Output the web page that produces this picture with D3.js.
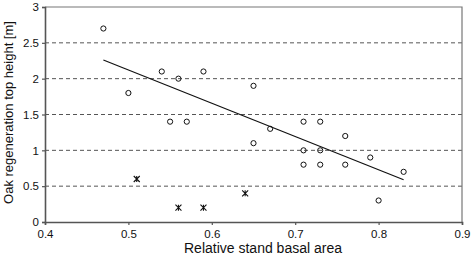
<!DOCTYPE html>
<html>
<head>
<meta charset="utf-8">
<script src="https://cdn.jsdelivr.net/npm/d3@7"></script>
<style>
  body { margin: 0; background: #fff; }
  text { font-family: "Liberation Sans", Arial, sans-serif; font-size: 11px; fill: #111; }
</style>
</head>
<body>
<script>
// stands with oak regeneration (circles)
const basalX = [0.47, 0.50, 0.54, 0.55, 0.56, 0.57, 0.59, 0.65, 0.65, 0.67, 0.71, 0.71, 0.71, 0.73, 0.73, 0.73, 0.76, 0.76, 0.79, 0.80, 0.83]
const heightY = [2.7, 1.8, 2.1, 1.4, 2.0, 1.4, 2.1, 1.9, 1.1, 1.3, 1.4, 1.0, 0.8, 1.4, 1.0, 0.8, 1.2, 0.8, 0.9, 0.3, 0.7]
// excluded stands (crosses)
const crossX = [0.51, 0.56, 0.59, 0.64]
const crossY = [0.6, 0.2, 0.2, 0.4]
// trend line end points
const trendX = [0.47, 0.83]
const trendY = [2.26, 0.59]

const xTicks = [0.4, 0.5, 0.6, 0.7, 0.8, 0.9]
const yTicks = [0, 0.5, 1, 1.5, 2, 2.5, 3]

const width = 473
const height = 260
const margin = {left: 45, top: 7, right: 11, bottom: 38}

var svg = d3.select("body").append("svg")
    .attr("width", width)
    .attr("height", height)

var x = d3.scaleLinear().domain([0.4, 0.9]).range([margin.left, width - margin.right])
var y = d3.scaleLinear().domain([0, 3]).range([height - margin.bottom, margin.top])

//Gitterlinien
svg.append("g")
    .selectAll("line")
    .data(yTicks.filter(d => d > 0 && d < 3))
    .enter()
    .append("line")
        .attr("x1", x(0.4)).attr("x2", x(0.9))
        .attr("y1", d => y(d)).attr("y2", d => y(d))
        .attr("stroke", "#555")
        .attr("stroke-width", 1)
        .attr("stroke-dasharray", "4,3")

//Rahmen oben und rechts
svg.append("path")
    .attr("d", `M${x(0.4)},${y(3)}H${x(0.9)}V${y(0)}`)
    .attr("fill", "none")
    .attr("stroke", "#777")
    .attr("stroke-width", 1.2)

//Achsen
var xAxis = svg.append("g")
    .attr("transform", `translate(0,${y(0)})`)
    .call(d3.axisBottom(x).tickValues(xTicks).tickSize(3).tickPadding(5).tickFormat(d3.format(".1f")))
var yAxis = svg.append("g")
    .attr("transform", `translate(${x(0.4)},0)`)
    .call(d3.axisLeft(y).tickValues(yTicks).tickSize(3).tickPadding(3).tickFormat(d => d))

svg.selectAll(".domain").attr("stroke", "#555").attr("stroke-width", 1.6)
svg.selectAll(".tick line").attr("stroke", "#555").attr("stroke-width", 1.2)
svg.selectAll(".tick text").style("font-size", "11.5px").attr("fill", "#111")

//Trendlinie
var line = d3.line().x(d => x(d[0])).y(d => y(d[1]))
svg.append("path")
    .attr("d", line(d3.zip(trendX, trendY)))
    .attr("fill", "none")
    .attr("stroke", "#111")
    .attr("stroke-width", 1.2)

//Kreise
svg.append("g")
    .selectAll("circle")
    .data(d3.zip(basalX, heightY))
    .enter()
    .append("circle")
        .attr("cx", d => x(d[0]))
        .attr("cy", d => y(d[1]))
        .attr("r", 2.6)
        .attr("fill", "none")
        .attr("stroke", "#111")
        .attr("stroke-width", 1)

//Kreuze
var s = 3
svg.append("g")
    .selectAll("path")
    .data(d3.zip(crossX, crossY))
    .enter()
    .append("path")
        .attr("d", d => {
            var cx = x(d[0]), cy = y(d[1])
            return `M${cx - s},${cy - s}L${cx + s},${cy + s}M${cx - s},${cy + s}L${cx + s},${cy - s}M${cx},${cy - s}V${cy + s}`
        })
        .attr("stroke", "#111")
        .attr("stroke-width", 1.1)
        .attr("fill", "none")

//Achsentitel
svg.append("text")
    .attr("x", 263)
    .attr("y", 253)
    .attr("text-anchor", "middle")
    .style("font-size", "14px")
    .text("Relative stand basal area")

svg.append("text")
    .attr("transform", `translate(13,${(y(0) + y(3)) / 2 - 2}) rotate(-90)`)
    .attr("text-anchor", "middle")
    .style("font-size", "13px")
    .text("Oak regeneration top height [m]")
</script>
</body>
</html>
